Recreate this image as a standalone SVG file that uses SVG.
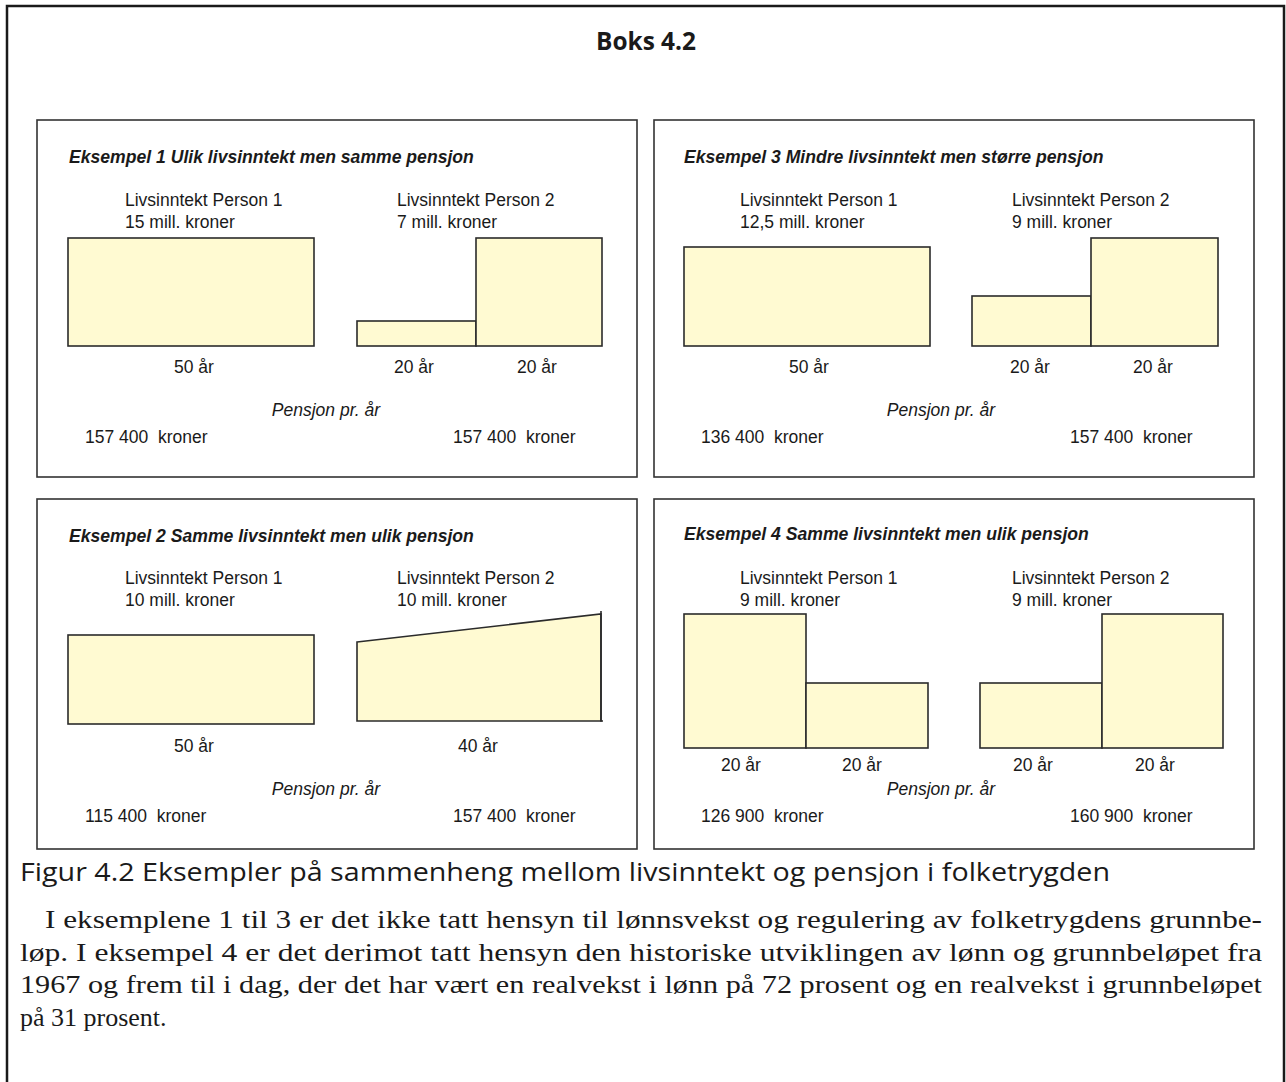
<svg xmlns="http://www.w3.org/2000/svg" width="1286" height="1082" viewBox="0 0 1286 1082">
<style>
.frame{fill:none;stroke:#1a1a1a;stroke-width:2.5}
.panel{fill:#fff;stroke:#333;stroke-width:1.6}
.bar{fill:#fffad2;stroke:#2b2b2b;stroke-width:1.6}
.t{font-family:"Liberation Sans",Arial,sans-serif;font-size:17.5px;fill:#1a1a1a;white-space:pre}
.h{font-family:"Liberation Sans",Arial,sans-serif;font-size:17.6px;font-weight:bold;font-style:italic;fill:#1a1a1a}
.i{font-style:italic}
.m{text-anchor:middle}
.cap{font-family:"Open Sans","Liberation Sans",sans-serif;font-size:25px;fill:#1a1a1a}
.p{font-family:"Liberation Serif","Times New Roman",serif;font-size:26px;fill:#1a1a1a}
</style>
<rect width="1286" height="1082" fill="#fff"/>
<path class="frame" d="M7,1082 V6 H1284 V1082"/>
<text x="646" y="50" text-anchor="middle" font-family="'Open Sans','Liberation Sans',sans-serif" font-size="25" font-weight="bold" fill="#1a1a1a" textLength="100" lengthAdjust="spacingAndGlyphs">Boks 4.2</text>

<g id="eksempel1">
<rect class="panel" x="37" y="120" width="600" height="357"/>
<text class="h" x="69" y="163">Eksempel 1 Ulik livsinntekt men samme pensjon</text>
<text class="t" x="125" y="206">Livsinntekt Person 1</text>
<text class="t" x="125" y="228">15 mill. kroner</text>
<text class="t" x="397" y="206">Livsinntekt Person 2</text>
<text class="t" x="397" y="228">7 mill. kroner</text>
<rect class="bar" x="68" y="238" width="246" height="108"/>
<rect class="bar" x="357" y="321" width="119" height="25"/>
<rect class="bar" x="476" y="238" width="126" height="108"/>
<text class="t m" x="194" y="373">50 år</text>
<text class="t m" x="414" y="373">20 år</text>
<text class="t m" x="537" y="373">20 år</text>
<text class="t m i" x="326" y="416">Pensjon pr. år</text>
<text class="t" x="85" y="443">157 400  kroner</text>
<text class="t" x="453" y="443">157 400  kroner</text>
</g>

<g id="eksempel3">
<rect class="panel" x="654" y="120" width="600" height="357"/>
<text class="h" x="684" y="163">Eksempel 3 Mindre livsinntekt men større pensjon</text>
<text class="t" x="740" y="206">Livsinntekt Person 1</text>
<text class="t" x="740" y="228">12,5 mill. kroner</text>
<text class="t" x="1012" y="206">Livsinntekt Person 2</text>
<text class="t" x="1012" y="228">9 mill. kroner</text>
<rect class="bar" x="684" y="247" width="246" height="99"/>
<rect class="bar" x="972" y="296" width="119" height="50"/>
<rect class="bar" x="1091" y="238" width="127" height="108"/>
<text class="t m" x="809" y="373">50 år</text>
<text class="t m" x="1030" y="373">20 år</text>
<text class="t m" x="1153" y="373">20 år</text>
<text class="t m i" x="941" y="416">Pensjon pr. år</text>
<text class="t" x="701" y="443">136 400  kroner</text>
<text class="t" x="1070" y="443">157 400  kroner</text>
</g>

<g id="eksempel2">
<rect class="panel" x="37" y="499" width="600" height="350"/>
<text class="h" x="69" y="542">Eksempel 2 Samme livsinntekt men ulik pensjon</text>
<text class="t" x="125" y="584">Livsinntekt Person 1</text>
<text class="t" x="125" y="606">10 mill. kroner</text>
<text class="t" x="397" y="584">Livsinntekt Person 2</text>
<text class="t" x="397" y="606">10 mill. kroner</text>
<rect class="bar" x="68" y="635" width="246" height="89"/>
<path class="bar" d="M357,642 L601,614 V721 H357 Z"/>
<path fill="none" stroke="#2b2b2b" stroke-width="1.6" d="M601,611 V721 H603"/>
<text class="t m" x="194" y="752">50 år</text>
<text class="t m" x="478" y="752">40 år</text>
<text class="t m i" x="326" y="795">Pensjon pr. år</text>
<text class="t" x="85" y="822">115 400  kroner</text>
<text class="t" x="453" y="822">157 400  kroner</text>
</g>

<g id="eksempel4">
<rect class="panel" x="654" y="499" width="600" height="350"/>
<text class="h" x="684" y="540">Eksempel 4 Samme livsinntekt men ulik pensjon</text>
<text class="t" x="740" y="584">Livsinntekt Person 1</text>
<text class="t" x="740" y="606">9 mill. kroner</text>
<text class="t" x="1012" y="584">Livsinntekt Person 2</text>
<text class="t" x="1012" y="606">9 mill. kroner</text>
<rect class="bar" x="684" y="614" width="122" height="134"/>
<rect class="bar" x="806" y="683" width="122" height="65"/>
<rect class="bar" x="980" y="683" width="122" height="65"/>
<rect class="bar" x="1102" y="614" width="121" height="134"/>
<text class="t m" x="741" y="771">20 år</text>
<text class="t m" x="862" y="771">20 år</text>
<text class="t m" x="1033" y="771">20 år</text>
<text class="t m" x="1155" y="771">20 år</text>
<text class="t m i" x="941" y="795">Pensjon pr. år</text>
<text class="t" x="701" y="822">126 900  kroner</text>
<text class="t" x="1070" y="822">160 900  kroner</text>
</g>

<g id="connectors"/>

<text class="cap" x="20" y="881" textLength="1090" lengthAdjust="spacingAndGlyphs">Figur 4.2 Eksempler på sammenheng mellom livsinntekt og pensjon i folketrygden</text>
<text class="p" x="45" y="928" textLength="1217" lengthAdjust="spacingAndGlyphs">I eksemplene 1 til 3 er det ikke tatt hensyn til lønnsvekst og regulering av folketrygdens grunnbe-</text>
<text class="p" x="20" y="961" textLength="1242" lengthAdjust="spacingAndGlyphs">løp. I eksempel 4 er det derimot tatt hensyn den historiske utviklingen av lønn og grunnbeløpet fra</text>
<text class="p" x="20" y="993" textLength="1242" lengthAdjust="spacingAndGlyphs">1967 og frem til i dag, der det har vært en realvekst i lønn på 72 prosent og en realvekst i grunnbeløpet</text>
<text class="p" x="20" y="1026">på 31 prosent.</text>
</svg>
